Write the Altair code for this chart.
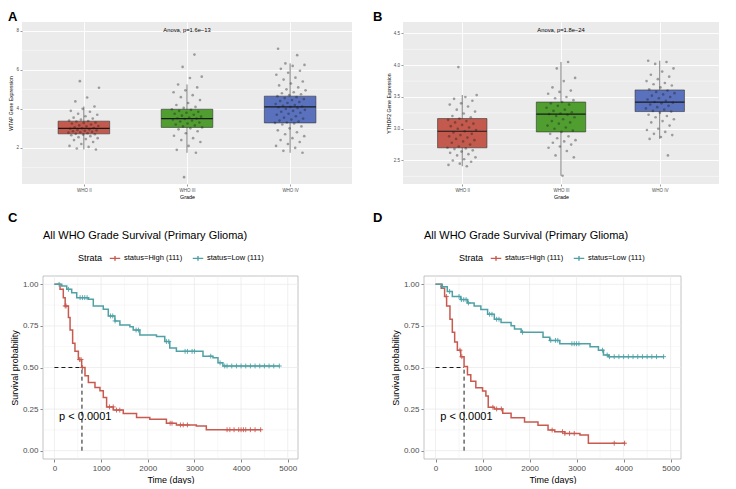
import altair as alt
import pandas as pd

FONT = "Liberation Sans"

# ---------------- Panels A and B: gene expression by WHO grade ----------------
grades = ["WHO II", "WHO III", "WHO IV"]
grade_fills = ["#C45A4E", "#509E30", "#5A71BE"]

# Panel A (WTAP) box summaries
wtap_q1 = [2.72, 3.05, 3.28]
wtap_median = [3.00, 3.50, 4.10]
wtap_q3 = [3.37, 3.98, 4.65]
wtap_whisker_low = [1.92, 1.75, 1.75]
wtap_whisker_high = [4.12, 5.25, 6.33]
# Panel A samples
wtap_who2 = [5.42, 5.08, 4.58, 4.38, 4.12, 4.0, 3.9, 3.85, 3.75, 3.7, 3.62, 3.55, 3.5, 3.45,
             3.4, 3.38, 3.35, 3.3, 3.28, 3.25, 3.2, 3.15, 3.12, 3.1, 3.05, 3.02, 3.0, 2.98,
             2.95, 2.92, 2.9, 2.88, 2.85, 2.82, 2.8, 2.78, 2.75, 2.72, 2.7, 2.68, 2.65, 2.6,
             2.55, 2.5, 2.45, 2.4, 2.3, 2.2, 2.1, 2.05, 1.97, 1.92]
wtap_who3 = [6.78, 6.15, 5.65, 5.58, 5.25, 5.1, 4.95, 4.85, 4.7, 4.6, 4.45, 4.3, 4.2, 4.1,
             4.05, 3.98, 3.95, 3.9, 3.85, 3.8, 3.75, 3.7, 3.65, 3.6, 3.55, 3.52, 3.5, 3.48,
             3.45, 3.4, 3.35, 3.3, 3.25, 3.2, 3.15, 3.1, 3.05, 3.0, 2.95, 2.85, 2.75, 2.62,
             2.5, 2.4, 2.3, 2.1, 1.9, 1.75, 0.5]
wtap_who4 = [7.08, 6.75, 6.33, 6.25, 6.2, 6.05, 5.95, 5.85, 5.75, 5.6, 5.5, 5.4, 5.3, 5.2,
             5.1, 5.0, 4.95, 4.85, 4.8, 4.75, 4.7, 4.65, 4.6, 4.55, 4.5, 4.45, 4.4, 4.35,
             4.3, 4.25, 4.2, 4.15, 4.12, 4.1, 4.08, 4.05, 4.0, 3.95, 3.9, 3.85, 3.8, 3.75,
             3.7, 3.62, 3.55, 3.5, 3.45, 3.4, 3.35, 3.3, 3.28, 3.25, 3.2, 3.1, 3.0, 2.9,
             2.8, 2.7, 2.6, 2.5, 2.4, 2.3, 2.2, 2.1, 2.0, 1.85, 1.75]

# Panel B (YTHDF2) box summaries
ythdf2_q1 = [2.70, 2.95, 3.27]
ythdf2_median = [2.96, 3.23, 3.42]
ythdf2_q3 = [3.16, 3.42, 3.61]
ythdf2_whisker_low = [2.41, 2.26, 2.84]
ythdf2_whisker_high = [3.53, 4.05, 4.07]
# Panel B samples
ythdf2_who2 = [3.97, 3.53, 3.5, 3.47, 3.44, 3.4, 3.38, 3.35, 3.3, 3.27, 3.24, 3.2, 3.18, 3.16,
               3.14, 3.12, 3.1, 3.08, 3.06, 3.04, 3.02, 3.0, 2.98, 2.96, 2.94, 2.92, 2.9, 2.88,
               2.86, 2.84, 2.82, 2.8, 2.78, 2.75, 2.72, 2.7, 2.69, 2.68, 2.66, 2.64, 2.62, 2.6,
               2.58, 2.55, 2.52, 2.5, 2.48, 2.45, 2.43, 2.41]
ythdf2_who3 = [4.05, 3.95, 3.8, 3.75, 3.65, 3.6, 3.58, 3.55, 3.5, 3.48, 3.45, 3.42, 3.4, 3.38,
               3.36, 3.33, 3.3, 3.28, 3.26, 3.24, 3.23, 3.22, 3.2, 3.18, 3.15, 3.12, 3.1, 3.08,
               3.05, 3.02, 3.0, 2.97, 2.95, 2.92, 2.88, 2.85, 2.82, 2.8, 2.78, 2.75, 2.72, 2.7,
               2.65, 2.58, 2.55, 2.26]
ythdf2_who4 = [4.07, 4.05, 4.02, 3.95, 3.9, 3.85, 3.82, 3.78, 3.75, 3.72, 3.7, 3.68, 3.65, 3.62,
               3.6, 3.58, 3.56, 3.54, 3.52, 3.5, 3.48, 3.46, 3.44, 3.42, 3.41, 3.4, 3.38, 3.36,
               3.34, 3.32, 3.3, 3.28, 3.27, 3.25, 3.22, 3.2, 3.18, 3.15, 3.12, 3.1, 3.05, 3.0,
               2.98, 2.95, 2.92, 2.9, 2.87, 2.84, 2.58]

# ---------------- Panels C and D: Kaplan-Meier survival ----------------
strata = ["status=High (111)", "status=Low (111)"]
strata_colors = ["#C85A50", "#4FA1A6"]

# Panel C
c_high_time = [0, 120, 190, 230, 300, 335, 390, 440, 513, 584, 655, 727, 869, 976, 1047, 1118,
               1261, 1475, 1760, 2044, 2400, 2614, 3041, 3255, 4430]
c_high_surv = [1.0, 0.97, 0.92, 0.87, 0.80, 0.725, 0.646, 0.597, 0.548, 0.50, 0.45, 0.41, 0.38,
               0.36, 0.32, 0.263, 0.244, 0.224, 0.20, 0.189, 0.165, 0.155, 0.149, 0.126, 0.126]
c_low_time = [0, 157, 264, 370, 477, 727, 833, 1047, 1154, 1296, 1403, 1617, 1688, 1831, 2187,
              2365, 2472, 2614, 3184, 3398, 3505, 3611, 4822]
c_low_surv = [1.0, 0.99, 0.97, 0.95, 0.92, 0.91, 0.87, 0.85, 0.81, 0.78, 0.755, 0.745, 0.725,
              0.695, 0.686, 0.656, 0.617, 0.597, 0.568, 0.558, 0.528, 0.509, 0.509]
c_high_censor = [230, 250, 540, 570, 600, 1180, 1260, 1330, 1400, 2480, 2520, 2700, 2760, 2850,
                 3700, 3760, 3850, 3950, 4000, 4050, 4100, 4200, 4300, 4420]
c_low_censor = [100, 300, 550, 600, 650, 700, 1200, 1250, 1300, 1750, 1800, 2400, 2450, 2800,
                2850, 2950, 3000, 3350, 3550, 3650, 3700, 3800, 3900, 4000, 4100, 4200, 4300,
                4400, 4500, 4600, 4700, 4820]
c_median_time = [590]

# Panel D
d_high_time = [0, 121, 193, 236, 307, 357, 407, 464, 536, 607, 679, 750, 857, 1000, 1071, 1121,
               1250, 1429, 1607, 1893, 2179, 2393, 2536, 2750, 3071, 3250, 4036]
d_high_surv = [1.0, 0.976, 0.927, 0.869, 0.79, 0.712, 0.653, 0.604, 0.565, 0.506, 0.457, 0.418,
               0.378, 0.359, 0.329, 0.261, 0.251, 0.225, 0.198, 0.173, 0.153, 0.124, 0.114,
               0.104, 0.094, 0.045, 0.045]
d_low_time = [0, 143, 250, 357, 536, 679, 821, 964, 1107, 1250, 1393, 1607, 1679, 1821, 2286,
              2429, 2643, 3286, 3464, 3571, 3679, 4857]
d_low_surv = [1.0, 0.986, 0.957, 0.927, 0.908, 0.888, 0.869, 0.849, 0.82, 0.79, 0.771, 0.751,
              0.731, 0.712, 0.682, 0.663, 0.643, 0.624, 0.604, 0.575, 0.565, 0.565]
d_high_censor = [230, 520, 560, 1220, 1300, 1400, 2480, 2700, 2750, 2850, 2950, 3800, 4020]
d_low_censor = [150, 300, 500, 550, 600, 650, 700, 1150, 1200, 1300, 1350, 1850, 2450, 2550,
                2600, 2900, 2950, 3000, 3050, 3550, 3650, 3700, 3800, 3900, 4000, 4100, 4200,
                4300, 4400, 4500, 4600, 4700, 4850]
d_median_time = [607]

p_label = "p < 0.0001"
km_title = "All WHO Grade Survival (Primary Glioma)"
time_major = [0, 1000, 2000, 3000, 4000, 5000]
time_minor = [500, 1500, 2500, 3500, 4500]
surv_major = [0, 0.25, 0.5, 0.75, 1.0]
surv_minor = [0.125, 0.375, 0.625, 0.875]


def text_layer(txt, x, y, size, weight="normal", align="left", baseline="alphabetic"):
    return alt.Chart(pd.DataFrame({"t": [txt]})).mark_text(
        fontSize=size, fontWeight=weight, align=align, baseline=baseline, color="black", font=FONT
    ).encode(x=alt.value(x), y=alt.value(y), text="t:N")


def minor_rules(channel, values, scale, axis, color, width):
    df = pd.DataFrame({"v": values})
    enc = {channel: alt.X("v:Q", scale=scale, axis=axis) if channel == "x"
           else alt.Y("v:Q", scale=scale, axis=axis)}
    return alt.Chart(df).mark_rule(color=color, strokeWidth=width).encode(**enc)


def box_panel(letter, letter_x, ytitle, anova, samples, q1, med, q3, lo, hi,
              ydomain, ymajor, yminor, yfmt, W, H):
    summary = pd.DataFrame({"grade": grades, "idx": [1, 2, 3], "q1": q1, "med": med,
                            "q3": q3, "lo": lo, "hi": hi})
    rows = []
    for k, vals in enumerate(samples):
        for i, v in enumerate(vals):
            rows.append({"grade": grades[k], "idx": k + 1, "value": v, "i": i})
    pts = pd.DataFrame(rows)
    # deterministic horizontal jitter (visual spreading only)
    pts["xj"] = pts["idx"] + (((pts["i"] * 0.6180339887 + 0.37 * pts["idx"]) % 1.0) - 0.5) * 0.30

    xs = alt.Scale(domain=[0.4, 3.6], nice=False, zero=False)
    ys = alt.Scale(domain=ydomain, nice=False, zero=False)
    xaxis = alt.Axis(values=[1, 2, 3],
                     labelExpr="['', 'WHO II', 'WHO III', 'WHO IV'][datum.value]",
                     title="Grade", titleFontSize=5.4, titleFontWeight="normal", titleColor="black",
                     titlePadding=2, labelFontSize=4.5, labelColor="#4D4D4D", labelPadding=1.5,
                     tickSize=2, tickColor="#333333", tickWidth=0.5, domain=False,
                     gridColor="white", gridWidth=0.9, labelFont=FONT, titleFont=FONT)
    yaxis = alt.Axis(values=ymajor, format=yfmt, labelOverlap=False,
                     title=ytitle, titleFontSize=5.1, titleFontWeight="normal", titleColor="black",
                     titlePadding=2, labelFontSize=4.5, labelColor="#4D4D4D", labelPadding=1.5,
                     tickSize=2, tickColor="#333333", tickWidth=0.5, domain=False,
                     gridColor="white", gridWidth=0.9, labelFont=FONT, titleFont=FONT)

    whisk = alt.Chart(summary).mark_rule(color="#333333", strokeWidth=0.6).encode(
        x=alt.X("idx:Q", scale=xs, axis=xaxis),
        y=alt.Y("lo:Q", scale=ys, axis=yaxis),
        y2="hi:Q")
    box = alt.Chart(summary).transform_calculate(
        xa="datum.idx - 0.25", xb="datum.idx + 0.25"
    ).mark_bar(stroke="#333333", strokeWidth=0.6, opacity=1).encode(
        x=alt.X("xa:Q", scale=xs, axis=xaxis), x2="xb:Q",
        y=alt.Y("q1:Q", scale=ys, axis=yaxis), y2="q3:Q",
        fill=alt.Fill("grade:N", scale=alt.Scale(domain=grades, range=grade_fills), legend=None))
    medl = alt.Chart(summary).transform_calculate(
        xa="datum.idx - 0.25", xb="datum.idx + 0.25"
    ).mark_rule(color="#1a1a1a", strokeWidth=1.2).encode(
        x=alt.X("xa:Q", scale=xs, axis=xaxis), x2="xb:Q",
        y=alt.Y("med:Q", scale=ys, axis=yaxis))
    dots = alt.Chart(pts).mark_circle(size=7, color="#1a1a1a", opacity=0.38).encode(
        x=alt.X("xj:Q", scale=xs, axis=xaxis),
        y=alt.Y("value:Q", scale=ys, axis=yaxis))
    return alt.layer(
        minor_rules("y", yminor, ys, yaxis, "white", 0.45),
        whisk, box, medl, dots,
        text_layer(anova, W / 2, 8, 5.8, align="center", baseline="middle"),
        text_layer(letter, letter_x, -11, 13, weight="bold", baseline="top"),
    ).properties(width=W, height=H,
                 view=alt.ViewBackground(fill="#EBEBEB", strokeWidth=0))


def step_at(times, surv, cens):
    ref = pd.DataFrame({"t": times, "s": surv}).astype(float).sort_values("t")
    c = pd.DataFrame({"t": sorted(cens)}).astype(float)
    return pd.merge_asof(c, ref, on="t")


def km_panel(letter, letter_x, ht, hs, lt, ls, hc, lc, med_t, W, H, shift):
    # 'shift' moves the drawn panel (and its y axis) inside the view by that many pixels
    curves = pd.concat([
        pd.DataFrame({"t": ht, "s": hs, "strata": strata[0]}),
        pd.DataFrame({"t": lt, "s": ls, "strata": strata[1]}),
    ])
    ch = step_at(ht, hs, hc)
    ch["strata"] = strata[0]
    cl = step_at(lt, ls, lc)
    cl["strata"] = strata[1]
    cens = pd.concat([ch, cl])
    med = pd.DataFrame({"t0": [0], "tm": med_t, "s": [0.5], "s0": [0.0]})
    pv = pd.DataFrame({"t": [100], "s": [0.2], "label": [p_label]})

    xs = alt.Scale(domain=[-245, 5220], nice=False, zero=False, range=[shift, W + shift])
    ys = alt.Scale(domain=[-0.05, 1.05], nice=False, zero=False)
    common = dict(titleFontSize=9, titleFontWeight="normal", titleColor="black",
                  labelFontSize=8, labelColor="#4D4D4D", tickColor="#333333", tickWidth=0.6,
                  tickSize=3, domain=False, grid=False, labelOverlap=False, labelFont=FONT,
                  titleFont=FONT, labelPadding=2, titlePadding=3)
    xaxis = alt.Axis(values=time_major, format="d", title="Time (days)",
                     titleX=shift + W / 2, **common)
    yaxis = alt.Axis(values=surv_major, format=".2f", title="Survival probability",
                     offset=-shift, **common)
    cscale = alt.Scale(domain=strata, range=strata_colors)
    legend = alt.Legend(title="Strata", orient="none", legendX=shift + 35, legendY=-24,
                        direction="horizontal", titleOrient="left", titleFontSize=9,
                        titleFontWeight="normal", titleColor="black", titleFont=FONT,
                        labelFontSize=7.5, labelColor="black", labelFont=FONT,
                        symbolType="M-1,0L1,0M0,-0.45L0,0.45", symbolSize=110,
                        symbolStrokeWidth=1.4, columnPadding=6, labelOffset=3, titlePadding=6)

    panel = alt.Chart(pd.DataFrame({"p": [0]})).mark_rect(
        fill="white", stroke="#B5B5B5", strokeWidth=0.8
    ).encode(x=alt.value(shift), x2=alt.value(W + shift), y=alt.value(0), y2=alt.value(H))

    def hgrid(values, width):
        return alt.Chart(pd.DataFrame({"v": values})).mark_rule(
            color="#EBEBEB", strokeWidth=width
        ).encode(y=alt.Y("v:Q", scale=ys, axis=yaxis),
                 x=alt.value(shift), x2=alt.value(W + shift))

    lines = alt.Chart(curves).mark_line(interpolate="step-after", strokeWidth=1.5).encode(
        x=alt.X("t:Q", scale=xs, axis=xaxis),
        y=alt.Y("s:Q", scale=ys, axis=yaxis),
        color=alt.Color("strata:N", scale=cscale, legend=legend))
    marks = alt.Chart(cens).mark_point(shape="M-1,0L1,0M0,-1L0,1", size=24, strokeWidth=0.9,
                                       filled=False, opacity=1).encode(
        x=alt.X("t:Q", scale=xs, axis=xaxis),
        y=alt.Y("s:Q", scale=ys, axis=yaxis),
        color=alt.Color("strata:N", scale=cscale, legend=legend))
    hline = alt.Chart(med).mark_rule(color="black", strokeWidth=0.9, strokeDash=[4, 3]).encode(
        x=alt.X("t0:Q", scale=xs, axis=xaxis), x2="tm:Q", y=alt.Y("s:Q", scale=ys, axis=yaxis))
    vline = alt.Chart(med).mark_rule(color="black", strokeWidth=0.9, strokeDash=[4, 3]).encode(
        x=alt.X("tm:Q", scale=xs, axis=xaxis), y=alt.Y("s0:Q", scale=ys, axis=yaxis), y2="s:Q")
    ptext = alt.Chart(pv).mark_text(fontSize=11, align="left", baseline="middle",
                                    color="black", font=FONT).encode(
        x=alt.X("t:Q", scale=xs, axis=xaxis), y=alt.Y("s:Q", scale=ys, axis=yaxis),
        text="label:N")
    return alt.layer(
        panel,
        minor_rules("x", time_minor, xs, xaxis, "#EBEBEB", 0.4),
        minor_rules("x", time_major, xs, xaxis, "#EBEBEB", 0.8),
        hgrid(surv_minor, 0.4),
        hgrid(surv_major, 0.8),
        lines, marks, hline, vline, ptext,
        text_layer(km_title, shift, -37, 11),
        text_layer(letter, letter_x, -64, 13, weight="bold", baseline="top"),
    ).properties(width=W + shift, height=H,
                 view=alt.ViewBackground(fill="white", strokeWidth=0))


panel_a = box_panel("A", -14, "WTAP Gene Expression", "Anova, p=1.6e\u221213",
                    [wtap_who2, wtap_who3, wtap_who4], wtap_q1, wtap_median, wtap_q3,
                    wtap_whisker_low, wtap_whisker_high, [0.15, 8.45],
                    [2, 4, 6, 8], [1, 3, 5, 7], "d", 330, 162)
panel_b = box_panel("B", -30, "YTHDF2 Gene Expression", "Anova, p=1.8e\u221224",
                    [ythdf2_who2, ythdf2_who3, ythdf2_who4], ythdf2_q1, ythdf2_median, ythdf2_q3,
                    ythdf2_whisker_low, ythdf2_whisker_high, [2.13, 4.68],
                    [2.5, 3.0, 3.5, 4.0, 4.5], [2.25, 2.75, 3.25, 3.75, 4.25], ".1f", 316, 162)
panel_c = km_panel("C", -14, c_high_time, c_high_surv, c_low_time, c_low_surv,
                   c_high_censor, c_low_censor, c_median_time, 255, 183, 21)
panel_d = km_panel("D", -51, d_high_time, d_high_surv, d_low_time, d_low_surv,
                   d_high_censor, d_low_censor, d_median_time, 257, 183, 0)

row1 = alt.hconcat(panel_a, panel_b, spacing=20).resolve_scale(color="independent", fill="independent")
row2 = alt.hconcat(panel_c, panel_d, spacing=74).resolve_scale(color="independent", fill="independent")
chart = alt.vconcat(row1, row2, spacing=12).resolve_scale(
    color="independent", fill="independent"
).properties(padding={"left": 0, "top": 3, "right": 0, "bottom": 0}).configure(font=FONT)

chart.save("out.html", embed_options={"renderer": "svg", "actions": False})
